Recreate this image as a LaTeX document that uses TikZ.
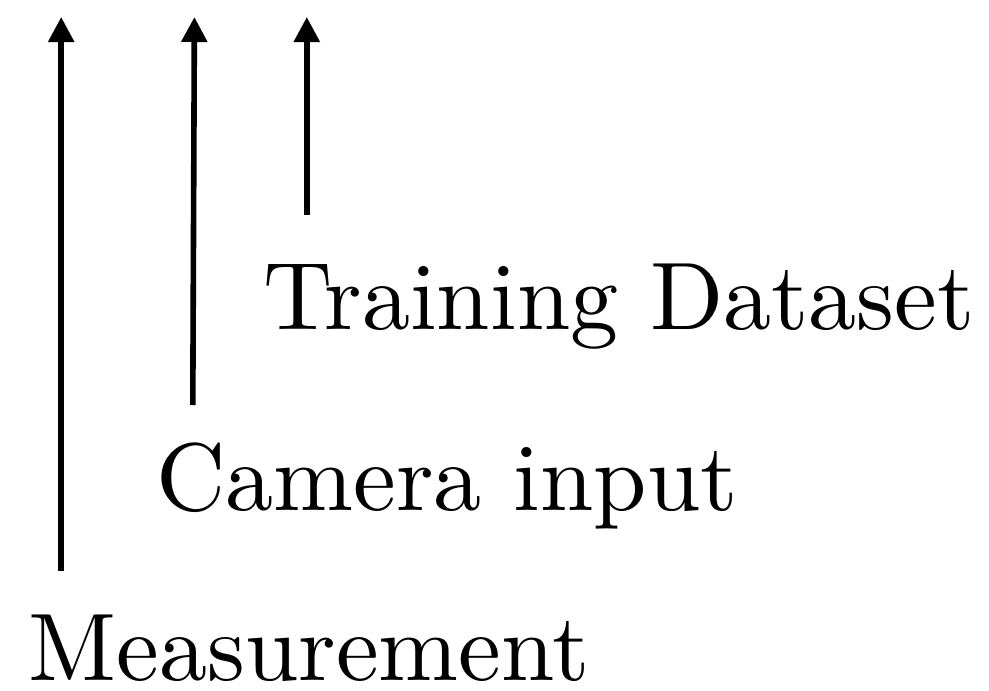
\documentclass[tikz,border=0pt]{standalone}
\usepackage{graphicx}
\usetikzlibrary{arrows.meta}
\newcommand{\biglbl}[1]{\scalebox{9.6}{\fontsize{10}{12}\selectfont #1}}
\begin{document}
\begin{tikzpicture}[x=1pt,y=-1pt,
  lbl/.style={inner sep=0pt,anchor=base west},
  uparrow/.style={line width=5.6pt,-{Triangle[width=25pt,length=25pt]}}]
\useasboundingbox (0,0) rectangle (989,691);
\node[lbl] (meas) at (28.5,680.5) {\biglbl{Measurement}};
\node[lbl] (cam) at (156,510) {\biglbl{Camera input}};
\node[lbl] (train) at (263,329) {\biglbl{Training Dataset}};
\coordinate (measbot) at (61.2,571);
\coordinate (meastop) at (61.2,17);
\coordinate (cambot) at (192.8,405);
\coordinate (camtop) at (194.4,17);
\coordinate (trainbot) at (306.8,215);
\coordinate (traintop) at (306.8,17);
\draw[uparrow] (measbot) -- (meastop);
\draw[uparrow] (cambot) -- (camtop);
\draw[uparrow] (trainbot) -- (traintop);
\end{tikzpicture}
\end{document}
